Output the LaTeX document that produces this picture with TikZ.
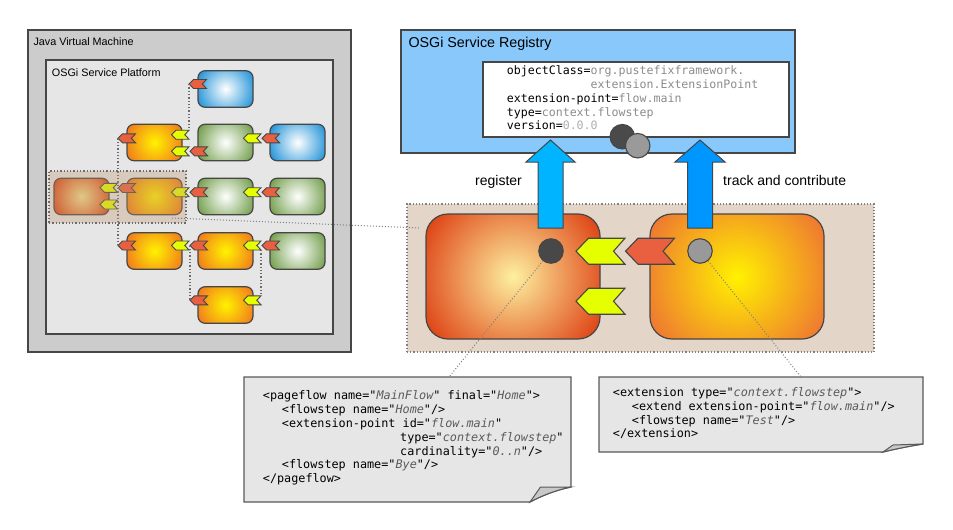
\documentclass[tikz,border=0pt]{standalone}
\usepackage{fontspec}
\setmainfont{Liberation Sans}
\setmonofont{DejaVu Sans Mono}
\definecolor{jvmfill}{RGB}{204,204,204}
\definecolor{platfill}{RGB}{230,230,230}
\definecolor{edge}{RGB}{70,70,70}
\definecolor{regfill}{RGB}{136,200,250}
\definecolor{bigreg}{RGB}{227,214,201}
\definecolor{hlfill}{RGB}{190,150,110}
\definecolor{chyel}{RGB}{230,255,0}
\definecolor{chred}{RGB}{232,96,64}
\definecolor{blueout}{RGB}{27,143,214}
\definecolor{greenout}{RGB}{110,155,70}
\definecolor{orin}{RGB}{255,242,0}
\definecolor{orout}{RGB}{240,118,30}
\definecolor{redin}{RGB}{242,228,150}
\definecolor{redout}{RGB}{218,62,20}
\definecolor{bigLin}{RGB}{253,240,160}
\definecolor{bigLout}{RGB}{222,66,20}
\definecolor{bigRin}{RGB}{255,242,0}
\definecolor{bigRout}{RGB}{238,118,50}
\definecolor{regarrow}{RGB}{0,180,255}
\definecolor{trkarrow}{RGB}{0,150,255}
\definecolor{valgray}{RGB}{140,140,140}
\definecolor{verval}{RGB}{175,175,175}
\definecolor{codeval}{RGB}{90,90,90}
\definecolor{codefill}{RGB}{230,230,230}
\definecolor{foldfill}{RGB}{200,200,200}
\newcommand\rv[1]{\textcolor{valgray}{#1}}
\newcommand\cv[1]{\textcolor{codeval}{\itshape #1}}
% name, cx, cy, width, height, corner radius, inner colour, outer colour
\newcommand\mkbundle[8]{%
  \begin{scope}
    \clip[rounded corners=#6pt] ({#2-#4/2},{#3-#5/2}) rectangle ++(#4,#5);
    \shade[inner color=#7, outer color=#8] (#2,#3) circle ({0.58*#4});
  \end{scope}
  \node[draw=edge, line width=1.2pt, rounded corners=#6pt, minimum width=#4pt,
        minimum height=#5pt, inner sep=0pt] (#1) at (#2,#3) {};%
}
\begin{document}
\begin{tikzpicture}[x=1pt,y=-1pt,
  panel/.style={draw=edge, line width=1.4pt},
  dots/.style={draw=edge!80, dotted, line width=1.3pt},
  gdots/.style={draw=gray, dotted, line width=1pt},
  lbl/.style={anchor=base west, inner sep=0pt},
  regtext/.style={anchor=base west, inner sep=0pt, font=\ttfamily\fontsize{11.6}{13}\selectfont},
  codetext/.style={anchor=base west, inner sep=0pt, font=\ttfamily\fontsize{11.8}{13}\selectfont},
  chev/.pic={
    \coordinate (-tip) at (0,0);
    \coordinate (-end) at (17.5,0);
    \coordinate (-tr) at (17.5,-4.5);
    \coordinate (-br) at (17.5,4.5);
    \path[draw=edge, line width=0.9pt, fill=#1] (0,0) -- (4.5,-4.5) -- (17.5,-4.5) -- (13.3,0) -- (17.5,4.5) -- (4.5,4.5) -- cycle;
  },
  bigchev/.pic={
    \coordinate (-tip) at (0,0);
    \path[draw=edge, line width=1.1pt, fill=#1] (0,0) -- (12.5,-13) -- (49,-13) -- (37.5,0) -- (49,13) -- (12.5,13) -- cycle;
  },
  circ/.style={circle, draw=edge, line width=1.1pt, minimum size=24.5pt, inner sep=0pt}
]
\useasboundingbox (0,0) rectangle (953,530);

% ---------- left: JVM ----------
\path[panel, fill=jvmfill] (28,30) rectangle (351,352);
\node[lbl, font=\fontsize{10.8}{12}\selectfont] (jvm) at (33.3,45.5) {Java Virtual Machine};
\path[panel, fill=platfill] (46,60) rectangle (333,334);
\node[lbl, font=\fontsize{10.8}{12}\selectfont] (plat) at (51.7,76) {OSGi Service Platform};

% bundles
\mkbundle{bC1}{225.5}{89}{55}{36.5}{7}{white}{blueout}
\mkbundle{bB2}{154.5}{142.5}{55}{36.5}{7}{orin}{orout}
\mkbundle{bC2}{225.5}{142.5}{55}{36.5}{7}{white}{greenout}
\mkbundle{bD2}{297.5}{142.5}{55}{36.5}{7}{white}{blueout}
\mkbundle{bA3}{81.5}{196.5}{55}{36.5}{7}{redin}{redout}
\mkbundle{bB3}{154.5}{196.5}{55}{36.5}{7}{orin}{orout}
\mkbundle{bC3}{225.5}{196.5}{55}{36.5}{7}{white}{greenout}
\mkbundle{bD3}{297.5}{196.5}{55}{36.5}{7}{white}{greenout}
\mkbundle{bB4}{154.5}{251}{55}{36.5}{7}{orin}{orout}
\mkbundle{bC4}{225.5}{251}{55}{36.5}{7}{orin}{orout}
\mkbundle{bD4}{297.5}{251}{55}{36.5}{7}{white}{greenout}
\mkbundle{bC5}{225.5}{305}{55}{36.5}{7}{orin}{orout}

% chevrons
\pic (c1) at (189,84) {chev=chred};
\pic (c2a) at (118,138.3) {chev=chred};
\pic (c2b) at (171.5,134.7) {chev=chyel};
\pic (c2c) at (171.5,151.3) {chev=chyel};
\pic (c2d) at (190,151.3) {chev=chred};
\pic (c2e) at (243.5,138.3) {chev=chyel};
\pic (c2f) at (262,138.3) {chev=chred};
\pic (c3a) at (100,187.8) {chev=chyel};
\pic (c3b) at (100,204.5) {chev=chyel};
\pic (c3c) at (118,188) {chev=chred};
\pic (c3d) at (171.5,192.2) {chev=chyel};
\pic (c3e) at (190,192.2) {chev=chred};
\pic (c3f) at (243.5,192.2) {chev=chyel};
\pic (c3g) at (262,192.2) {chev=chred};
\pic (c4a) at (118,245.5) {chev=chred};
\pic (c4b) at (171.5,245.5) {chev=chyel};
\pic (c4c) at (190,245.5) {chev=chred};
\pic (c4d) at (243.5,245.5) {chev=chyel};
\pic (c4e) at (262,245.5) {chev=chred};
\pic (c5a) at (190,300.3) {chev=chred};
\pic (c5b) at (243.5,300.3) {chev=chyel};

% dotted wiring
\draw[dots] (c1-tip) -- (c2b-tr);
\draw[dots] (c2a-tip) -- (c3c-tip);
\draw[dots] (c3c-tip) -- (c4a-tip);
\draw[dots] (c4c-tip) -- (c5a-tip);
\draw[dots] (c4d-br) -- (c5b-tr);

% highlight overlay
\node[draw=edge!80, dotted, line width=1.3pt, fill=hlfill, fill opacity=0.35,
      minimum width=137pt, minimum height=52pt, inner sep=0pt] (hl) at (117.5,197) {};
\coordinate (hlc) at (172,218);

% ---------- right: registry ----------
\path[draw=edge, line width=1.3pt, fill=regfill] (401,30) rectangle (795,153);
\node[lbl, font=\fontsize{14.3}{16}\selectfont] (regtitle) at (408.3,47.5) {OSGi Service Registry};
\path[draw=edge, line width=1.2pt, fill=white] (483,62) rectangle (789,137);
\node[regtext] (r1) at (506.7,74) {objectClass=\rv{org.pustefixframework.}};
\node[regtext] (r2) at (506.7,88.5) {\phantom{objectClass=}\rv{extension.ExtensionPoint}};
\node[regtext] (r3) at (506.7,102) {extension-point=\rv{flow.main}};
\node[regtext] (r4) at (506.7,116) {type=\rv{context.flowstep}};
\node[regtext] (r5) at (506.7,129.5) {version=\textcolor{verval}{0.0.0}};
\node[circ, fill={rgb,255:red,74;green,74;blue,74}] (rc1) at (622.3,136.7) {};
\node[circ, fill={rgb,255:red,154;green,154;blue,154}] (rc2) at (637.7,145.7) {};

% big region
\node[draw=gray, dotted, line width=1.2pt, fill=bigreg, minimum width=467pt, minimum height=148pt, inner sep=0pt] (bigr) at (640.5,278) {};
\coordinate (lk) at (420,228);
\draw[gdots] (hlc) -- (lk);

\mkbundle{bl}{513}{276.5}{174}{125}{22}{bigLin}{bigLout}
\mkbundle{br}{737}{276.5}{174}{125}{22}{bigRin}{bigRout}

% arrows
\path[draw=edge, line width=1pt, fill=regarrow] (538,228) -- (538,162) -- (526,162) -- (550.5,140) -- (575,162) -- (563,162) -- (563,228) -- cycle;
\path[draw=edge, line width=1pt, fill=trkarrow] (687.5,228) -- (687.5,162) -- (675,162) -- (700,140) -- (725,162) -- (712.5,162) -- (712.5,228) -- cycle;
\node[anchor=base, inner sep=0pt, font=\fontsize{14}{16}\selectfont] (reglbl) at (498.5,185) {register};
\node[lbl, font=\fontsize{14}{16}\selectfont] (trklbl) at (723,185) {track and contribute};

\node[circ, fill={rgb,255:red,72;green,72;blue,72}] (dcirc) at (551,251) {};
\node[circ, fill={rgb,255:red,153;green,153;blue,153}] (gcirc) at (700,251) {};

\pic (bc1) at (576,251.2) {bigchev=chyel};
\pic (bc2) at (576,301.2) {bigchev=chyel};
\pic (bc3) at (625.5,251.2) {bigchev=chred};

% ---------- code boxes ----------
\path[draw=edge!90, line width=1.3pt, fill=codefill] (244,377) -- (571,377) -- (571,487) .. controls (556,490) and (541,496) .. (530,502) -- (244,502) -- cycle;
\path[draw=edge!90, line width=1pt, fill=foldfill] (530,502) -- (540.5,487) -- (571,487) .. controls (556,490) and (541,496) .. (530,502) -- cycle;
\path[draw=edge!90, line width=1.3pt, fill=codefill] (599,377) -- (923,377) -- (923,444) .. controls (910,446) and (895,449) .. (883,452) -- (599,452) -- cycle;
\path[draw=edge!90, line width=1pt, fill=foldfill] (883,452) -- (893,445) -- (923,444) .. controls (910,446) and (895,449) .. (883,452) -- cycle;

\node[codetext] (l1) at (262.7,399) {<pageflow name="\cv{MainFlow}" final="\cv{Home}">};
\node[codetext] (l2) at (281.7,413) {<flowstep name="\cv{Home}"/>};
\node[codetext] (l3) at (281.7,427) {<extension-point id="\cv{flow.main}"};
\node[codetext] (l4) at (400,441) {type="\cv{context.flowstep}"};
\node[codetext] (l5) at (400,455) {cardinality="\cv{0..n}"/>};
\node[codetext] (l6) at (281.7,468.5) {<flowstep name="\cv{Bye}"/>};
\node[codetext] (l7) at (262.7,482.5) {</pageflow>};

\node[codetext] (m1) at (612.7,396) {<extension type="\cv{context.flowstep}">};
\node[codetext] (m2) at (631.7,410) {<extend extension-point="\cv{flow.main}"/>};
\node[codetext] (m3) at (631.7,424) {<flowstep name="\cv{Test}"/>};
\node[codetext] (m4) at (612.7,437.5) {</extension>};

\coordinate (ca) at (449,377);
\coordinate (cb) at (801,377);
\draw[gdots] (dcirc) -- (ca);
\draw[gdots] (gcirc) -- (cb);
\end{tikzpicture}
\end{document}
